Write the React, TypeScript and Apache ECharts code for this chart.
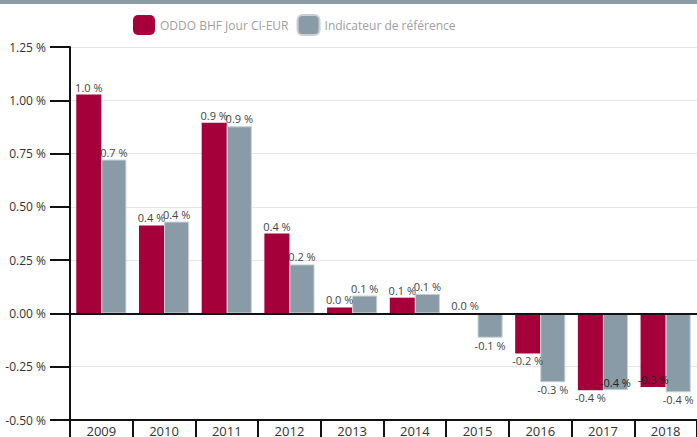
import React, { useEffect, useRef } from "react";
import * as echarts from "echarts";

const categories = ["2009", "2010", "2011", "2012", "2013", "2014", "2015", "2016", "2017", "2018"];
const fundName = "ODDO BHF Jour CI-EUR";
const benchName = "Indicateur de référence";
const fundValues = [1.027, 0.413, 0.895, 0.375, 0.028, 0.074, 0.0, -0.188, -0.361, -0.345];
const benchValues = [0.722, 0.431, 0.878, 0.23, 0.084, 0.092, -0.114, -0.323, -0.36, -0.37];
const yTicks = { min: -0.5, max: 1.25, interval: 0.25 };

const RED = "#a50039";
const GREY = "#8a9ba8";

function labelFor(v: number, inside: boolean) {
  if (inside) return { position: "insideBottom", distance: 2, color: "#222" };
  return { position: v < 0 ? "bottom" : "top", distance: 2 };
}

export default function App() {
  const ref = useRef<HTMLDivElement>(null);
  useEffect(() => {
    if (!ref.current) return;
    const chart = echarts.init(ref.current, undefined, { renderer: "svg" });
    const fundData = fundValues.map((v, i) => ({ value: v, label: labelFor(v, i === 9) }));
    const benchData = benchValues.map((v, i) => ({ value: v, label: labelFor(v, i === 8) }));
    const fmt = (p: any) => `${Number(p.value).toFixed(1)} %`;
    chart.setOption({
      animation: false,
      textStyle: { fontFamily: "Open Sans" },
      graphic: [
        { type: "rect", left: 0, top: 0, shape: { width: 697, height: 4 }, style: { fill: GREY } },
      ],
      legend: {
        left: 128,
        top: 9,
        itemWidth: 22,
        itemHeight: 20,
        itemGap: 8,
        icon: "roundRect",
        textStyle: { color: "#a0a0a0", fontSize: 12, fontFamily: "Open Sans" },
        data: [fundName, benchName],
      },
      grid: { left: 70, right: -11, top: 47, bottom: 17, containLabel: false },
      xAxis: {
        type: "category",
        data: categories,
        axisLine: { onZero: false, lineStyle: { color: "#111", width: 2 } },
        axisTick: { show: true, length: 20, lineStyle: { color: "#111", width: 2 } },
        axisLabel: { color: "#333", fontSize: 13, margin: 4, fontFamily: "Open Sans" },
        splitLine: { show: false },
      },
      yAxis: {
        type: "value",
        min: yTicks.min,
        max: yTicks.max,
        interval: yTicks.interval,
        axisLine: { show: true, lineStyle: { color: "#111", width: 2 } },
        axisTick: { show: true, length: 20, lineStyle: { color: "#111", width: 2 } },
        axisLabel: {
          color: "#333",
          fontSize: 12,
          margin: 24,
          fontFamily: "Open Sans",
          formatter: (v: number) => `${v.toFixed(2)} %`,
        },
        splitLine: { show: true, lineStyle: { color: "#e6e6e6", width: 1 } },
      },
      series: [
        {
          name: fundName,
          type: "bar",
          data: fundData,
          barGap: "0%",
          barCategoryGap: "20%",
          itemStyle: { color: RED },
          label: { show: true, formatter: fmt, color: "#444", fontSize: 11, fontFamily: "Open Sans" },
          markLine: {
            silent: true,
            symbol: "none",
            label: { show: false },
            lineStyle: { color: "#111", width: 2, type: "solid" },
            data: [{ yAxis: 0 }],
          },
        },
        {
          name: benchName,
          type: "bar",
          data: benchData,
          barGap: "0%",
          barCategoryGap: "20%",
          itemStyle: { color: GREY, borderColor: "#c8d0d6", borderWidth: 1 },
          label: { show: true, formatter: fmt, color: "#444", fontSize: 11, fontFamily: "Open Sans" },
        },
      ],
    });
    return () => chart.dispose();
  }, []);
  return (
    <div
      ref={ref}
      style={{ position: "fixed", left: 0, top: 0, width: 697, height: 437, background: "#fff" }}
    />
  );
}
